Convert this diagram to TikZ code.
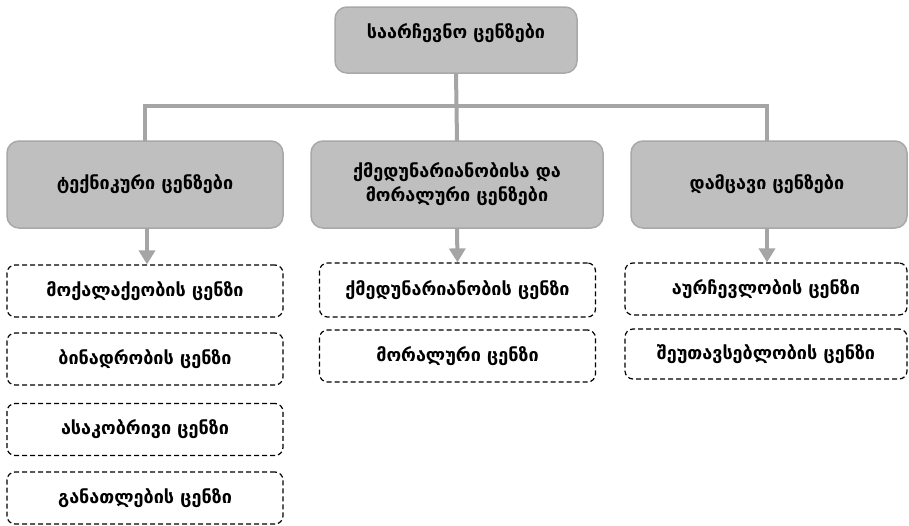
\documentclass[tikz,border=0pt]{standalone}
\usepackage{fontspec}
\setmainfont{DejaVu Sans}
\usetikzlibrary{arrows.meta}
\definecolor{boxfill}{HTML}{BFBFBF}
\definecolor{boxline}{HTML}{A8A8A8}
\definecolor{conn}{HTML}{A5A5A5}
\begin{document}
\begin{tikzpicture}[x=1pt,y=-1pt,
  every node/.style={font=\fontsize{18}{24}\selectfont\bfseries, align=center, inner sep=0pt},
  head/.style={draw=boxline, line width=1.5pt, fill=boxfill, rounded corners=12pt},
  sub/.style={draw=black, line width=1.2pt, dash pattern=on 5pt off 3pt, rounded corners=8pt},
  connline/.style={draw=conn, line width=4pt},
  arr/.style={connline, -{Triangle[width=16pt,length=14pt]}}]
\useasboundingbox (0,0) rectangle (909,525);
% top
\path[head] (335,7) rectangle (577,73);
\node (top) at (456,40) [minimum width=242pt, minimum height=66pt] {};
\node (toptext) at (456,33) {საარჩევნო ცენზები};
% level 2
\path[head] (7,141) rectangle (283,228);
\node (l1) at (145,184.5) [minimum width=276pt, minimum height=87pt] {ტექნიკური ცენზები};
\path[head] (311,141) rectangle (603,228);
\node (l2) at (457,184.5) [minimum width=292pt, minimum height=87pt] {ქმედუნარიანობისა და\\მორალური ცენზები};
\path[head] (631,141) rectangle (907,228);
\node (l3) at (767,184.5) [minimum width=276pt, minimum height=87pt] {დამცავი ცენზები};
% connectors
\coordinate (hy) at (456,106);
\draw[connline] (top.south) -- (l2.north);
\draw[connline] (l1.north) -- (l1.north |- hy) -- (l3.north |- hy) -- (l3.north);
% left column
\node[sub, minimum width=276pt, minimum height=52pt] (a1) at (145,291) {მოქალაქეობის ცენზი};
\node[sub, minimum width=276pt, minimum height=52pt] (a2) at (145,359) {ბინადრობის ცენზი};
\node[sub, minimum width=276pt, minimum height=52pt] (a3) at (145,429.5) {ასაკობრივი ცენზი};
\node[sub, minimum width=276pt, minimum height=52pt] (a4) at (145,498) {განათლების ცენზი};
% middle column
\node[sub, minimum width=276pt, minimum height=54pt] (b1) at (457.5,290) {ქმედუნარიანობის ცენზი};
\node[sub, minimum width=276pt, minimum height=52pt] (b2) at (457.5,356) {მორალური ცენზი};
% right column
\node[sub, minimum width=282pt, minimum height=52pt] (c1) at (766,289) {აურჩევლობის ცენზი};
\node[sub, minimum width=282pt, minimum height=50pt] (c2) at (766,354) {შეუთავსებლობის ცენზი};
% arrows
\draw[arr] (l1.south -| 147,0) -- (a1.north -| 147,0);
\draw[arr] (l2.south) -- (b1.north);
\draw[arr] (l3.south) -- (c1.north -| l3.south);
\end{tikzpicture}
\end{document}
